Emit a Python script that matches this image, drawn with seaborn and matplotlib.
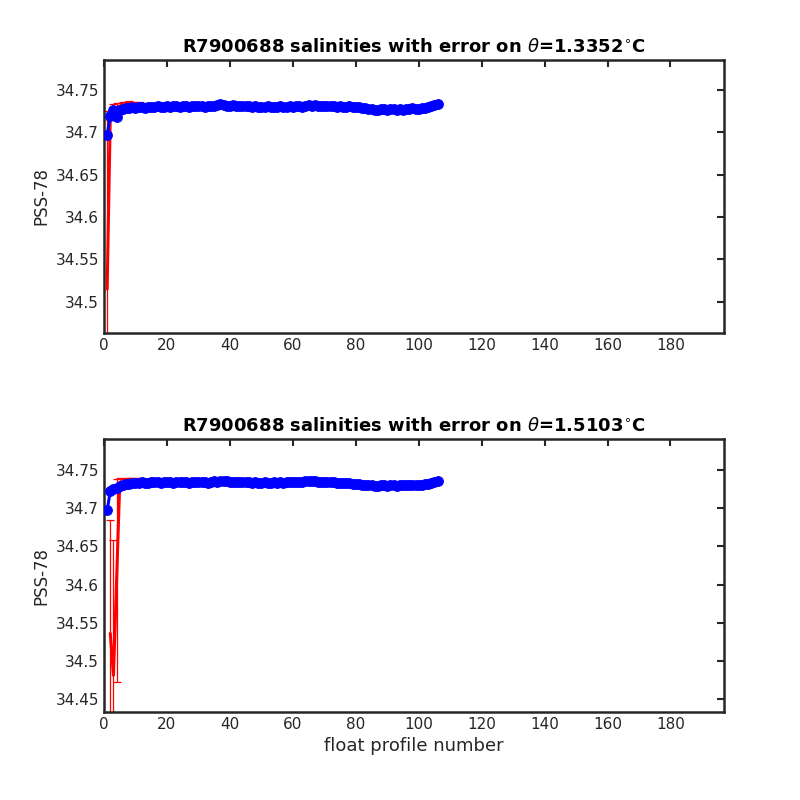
import numpy as np
import pandas as pd
import matplotlib
matplotlib.use("Agg")
import matplotlib.pyplot as plt
import seaborn as sns

FLOAT_ID = "R7900688"
THETA_LEVELS = [1.3352, 1.5103]

profiles = list(range(1, 107))

# float salinity on the theta level (blue), upper panel
blue_top = [
    34.697, 34.719, 34.727, 34.718, 34.726, 34.728, 34.729, 34.729, 34.730, 34.729,
    34.730, 34.730, 34.729, 34.730, 34.730, 34.730, 34.731, 34.730, 34.730, 34.731,
    34.730, 34.731, 34.731, 34.730, 34.731, 34.731, 34.730, 34.731, 34.731, 34.731,
    34.731, 34.730, 34.731, 34.731, 34.731, 34.732, 34.733, 34.732, 34.731, 34.731,
    34.732, 34.731, 34.731, 34.731, 34.731, 34.731, 34.730, 34.731, 34.730, 34.730,
    34.730, 34.731, 34.730, 34.730, 34.730, 34.731, 34.730, 34.730, 34.731, 34.730,
    34.731, 34.731, 34.730, 34.731, 34.732, 34.731, 34.732, 34.731, 34.731, 34.731,
    34.731, 34.731, 34.731, 34.730, 34.731, 34.730, 34.730, 34.731, 34.730, 34.730,
    34.730, 34.729, 34.729, 34.728, 34.728, 34.727, 34.727, 34.728, 34.728, 34.727,
    34.728, 34.728, 34.727, 34.728, 34.727, 34.728, 34.728, 34.729, 34.728, 34.728,
    34.729, 34.729, 34.730, 34.731, 34.732, 34.733,
]

# mapped salinity with error (red), upper panel
red_top = [
    34.515, 34.720, 34.728, 34.729, 34.731, 34.732, 34.732, 34.733, 34.732, 34.732,
    34.732, 34.731, 34.731, 34.731, 34.731, 34.731, 34.732, 34.732, 34.732, 34.732,
    34.731, 34.731, 34.731, 34.731, 34.732, 34.731, 34.731, 34.731, 34.731, 34.731,
    34.731, 34.731, 34.731, 34.732, 34.732, 34.732, 34.733, 34.733, 34.732, 34.732,
    34.732, 34.732, 34.732, 34.732, 34.732, 34.732, 34.732, 34.731, 34.731, 34.732,
    34.732, 34.732, 34.732, 34.732, 34.732, 34.732, 34.733, 34.732, 34.733, 34.733,
    34.733, 34.733, 34.733, 34.733, 34.733, 34.733, 34.734, 34.733, 34.733, 34.733,
    34.733, 34.732, 34.732, 34.732, 34.732, 34.732, 34.732, 34.732, 34.732, 34.731,
    34.731, 34.730, 34.729, 34.728, 34.728, 34.728, 34.728, 34.728, 34.728, 34.728,
    34.728, 34.728, 34.728, 34.728, 34.728, 34.728, 34.728, 34.729, 34.729, 34.729,
    34.729, 34.730, 34.730, 34.731, 34.732, 34.733,
]
err_top = [0.21, 0.005, 0.006, 0.006] + [0.004] * 8 + [0.002] * 94

# lower panel
blue_bot = [
    34.697, 34.7225, 34.725, 34.727, 34.729, 34.731, 34.732, 34.732, 34.733, 34.733,
    34.733, 34.734, 34.733, 34.733, 34.734, 34.734, 34.734, 34.733, 34.734, 34.734,
    34.734, 34.733, 34.734, 34.734, 34.734, 34.734, 34.733, 34.734, 34.734, 34.734,
    34.734, 34.734, 34.733, 34.734, 34.735, 34.734, 34.735, 34.735, 34.735, 34.734,
    34.734, 34.734, 34.734, 34.734, 34.734, 34.734, 34.733, 34.734, 34.733, 34.733,
    34.734, 34.733, 34.733, 34.734, 34.733, 34.734, 34.733, 34.734, 34.734, 34.734,
    34.734, 34.734, 34.734, 34.735, 34.735, 34.735, 34.735, 34.734, 34.734, 34.734,
    34.734, 34.734, 34.734, 34.733, 34.733, 34.733, 34.733, 34.733, 34.732, 34.732,
    34.732, 34.731, 34.730, 34.730, 34.730, 34.729, 34.729, 34.730, 34.730, 34.729,
    34.730, 34.730, 34.729, 34.730, 34.730, 34.730, 34.730, 34.731, 34.731, 34.731,
    34.731, 34.732, 34.732, 34.733, 34.734, 34.735,
]

red_bot = [
    np.nan, 34.536, 34.481, 34.605, 34.733, 34.734, 34.735, 34.735, 34.735, 34.735,
    34.735, 34.735, 34.735, 34.734, 34.735, 34.735, 34.735, 34.735, 34.735, 34.735,
    34.735, 34.735, 34.735, 34.735, 34.735, 34.735, 34.735, 34.735, 34.735, 34.735,
    34.735, 34.735, 34.735, 34.735, 34.736, 34.736, 34.736, 34.736, 34.736, 34.735,
    34.735, 34.735, 34.735, 34.735, 34.735, 34.735, 34.735, 34.735, 34.735, 34.735,
    34.735, 34.735, 34.735, 34.735, 34.735, 34.735, 34.735, 34.735, 34.735, 34.735,
    34.735, 34.735, 34.735, 34.736, 34.736, 34.736, 34.736, 34.735, 34.735, 34.735,
    34.735, 34.735, 34.735, 34.734, 34.734, 34.734, 34.734, 34.734, 34.733, 34.733,
    34.733, 34.731, 34.730, 34.730, 34.730, 34.729, 34.729, 34.729, 34.729, 34.729,
    34.729, 34.729, 34.729, 34.729, 34.730, 34.730, 34.730, 34.730, 34.731, 34.731,
    34.731, 34.731, 34.732, 34.732, 34.733, 34.734,
]
err_bot = [np.nan, 0.148, 0.177, 0.133, 0.006] + [0.004] * 7 + [0.002] * 94

yticks_top = [34.5, 34.55, 34.6, 34.65, 34.7, 34.75]
yticks_bot = [34.45, 34.5, 34.55, 34.6, 34.65, 34.7, 34.75]
xticks = list(range(0, 200, 20))

sns.set_theme(style="white")
plt.rcParams["font.family"] = ["DejaVu Sans"]
AX_COLOR = "#262626"


def draw_panel(ax, blue, red, err, theta, yticks, ylim):
    df = pd.DataFrame({"profile": profiles, "blue": blue, "red": red, "err": err})
    ax.errorbar(df["profile"], df["red"], yerr=df["err"], fmt="none",
                ecolor="red", elinewidth=0.9, capsize=3.2, capthick=0.9, zorder=2)
    sns.lineplot(data=df, x="profile", y="red", color="red", linewidth=2.2,
                 estimator=None, ax=ax, zorder=3)
    sns.lineplot(data=df, x="profile", y="blue", color="blue", linewidth=2.2,
                 marker="o", markersize=7, markeredgecolor="blue",
                 estimator=None, ax=ax, zorder=4)
    ax.set_xlim(0, 197)
    ax.set_ylim(*ylim)
    ax.set_xticks(xticks)
    ax.set_yticks(yticks)
    ax.set_yticklabels([f"{t:g}" for t in yticks])
    ax.tick_params(direction="in", length=5, width=1.5, colors=AX_COLOR,
                   labelsize=11, top=True, right=True, labelcolor=AX_COLOR)
    for sp in ax.spines.values():
        sp.set_color(AX_COLOR)
        sp.set_linewidth(1.8)
    ax.set_ylabel("PSS-78", fontsize=12, color=AX_COLOR)
    ax.set_xlabel("")
    ax.set_title(f"{FLOAT_ID} salinities with error on $\\theta$={theta:.4f}$^{{\\circ}}$C",
                 fontsize=13, fontweight="bold", color="black", pad=6)


fig = plt.figure(figsize=(8, 8), dpi=100)
ax1 = fig.add_axes([0.13, 0.5838, 0.775, 0.3412])
ax2 = fig.add_axes([0.13, 0.11, 0.775, 0.3412])

draw_panel(ax1, blue_top, red_top, err_top, THETA_LEVELS[0], yticks_top, (34.463, 34.7855))
draw_panel(ax2, blue_bot, red_bot, err_bot, THETA_LEVELS[1], yticks_bot, (34.433, 34.7906))
ax2.set_xlabel("float profile number", fontsize=13, color=AX_COLOR)

fig.savefig("out.png", dpi=100)
